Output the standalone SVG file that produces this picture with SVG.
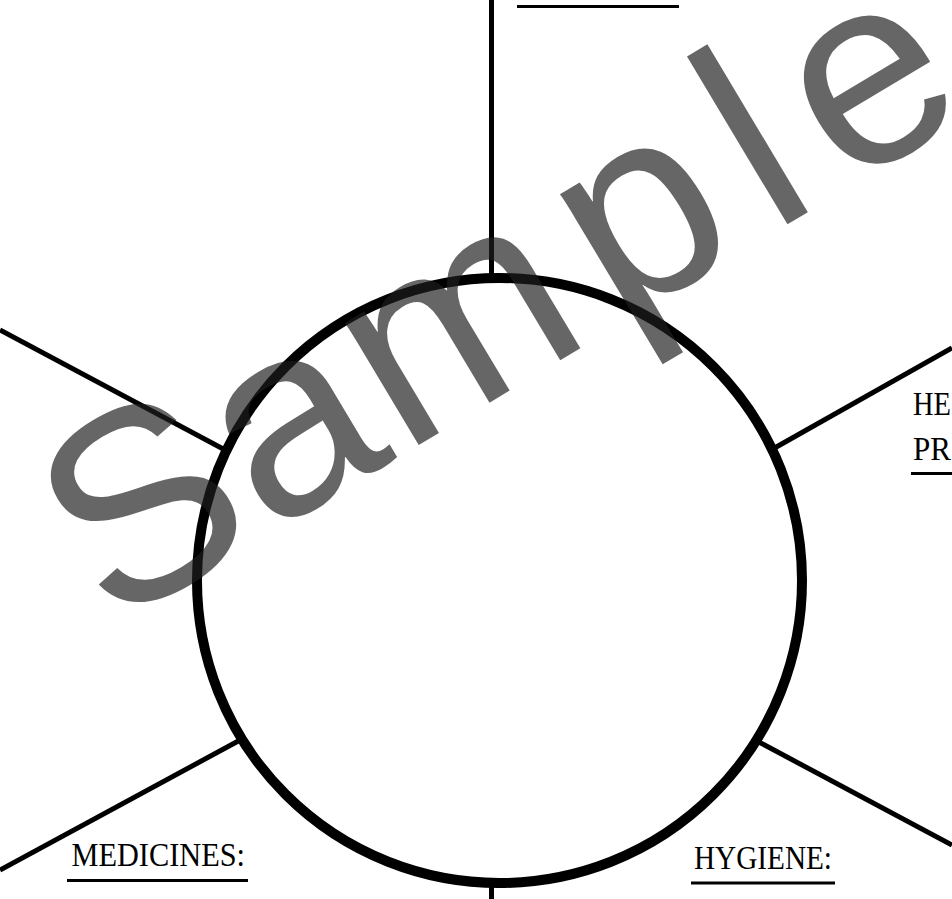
<svg xmlns="http://www.w3.org/2000/svg" width="952" height="899" viewBox="0 0 952 899">
  <style>
    .spoke { stroke: #000; stroke-width: 5; fill: none; stroke-linecap: butt; }
    .rule { stroke: #000; stroke-width: 3; fill: none; }
    .hub { stroke: #000; stroke-width: 10; fill: #fff; }
    .lbl { font-family: "Liberation Serif", "DejaVu Serif", serif; font-size: 34px; fill: #000; }
    .wm { font-family: "Liberation Sans", Arial, sans-serif; font-size: 270px; fill: #1e1e1e; fill-opacity: 0.68; }
  </style>
  <rect x="0" y="0" width="952" height="899" fill="#fff"/>
  <g id="connectors">
    <line class="spoke" x1="491.5" y1="0" x2="491.5" y2="282"/>
    <line class="spoke" x1="491.5" y1="878" x2="491.5" y2="899"/>
    <line class="spoke" x1="0" y1="330" x2="227" y2="451"/>
    <line class="spoke" x1="952" y1="348" x2="771" y2="450"/>
    <line class="spoke" x1="0" y1="870" x2="242" y2="739"/>
    <line class="spoke" x1="952" y1="845" x2="757" y2="741"/>
  </g>
  <g id="hub">
    <circle class="hub" cx="499.5" cy="580.5" r="302.5"/>
  </g>
  <g id="label-top">
    <line class="rule" x1="517" y1="6.5" x2="679" y2="6.5"/>
  </g>
  <g id="label-right">
    <text class="lbl" x="913" y="415" textLength="38" lengthAdjust="spacingAndGlyphs">HE</text>
    <text class="lbl" x="913" y="460" textLength="38" lengthAdjust="spacingAndGlyphs">PR</text>
    <line class="rule" x1="911" y1="473.5" x2="952" y2="473.5"/>
  </g>
  <g id="label-medicines">
    <text class="lbl" x="71.5" y="865.5" textLength="173.5" lengthAdjust="spacingAndGlyphs">MEDICINES:</text>
    <line class="rule" x1="67" y1="880.5" x2="248" y2="880.5"/>
  </g>
  <g id="label-hygiene">
    <text class="lbl" x="694" y="869" textLength="138" lengthAdjust="spacingAndGlyphs">HYGIENE:</text>
    <line class="rule" x1="691" y1="883" x2="835" y2="883"/>
  </g>
  <g id="watermark">
    <text class="wm" transform="translate(499,397) rotate(-30.9)" x="-452 -268.4 -112.3 139 318 404" y="0">Sample</text>
  </g>
</svg>
